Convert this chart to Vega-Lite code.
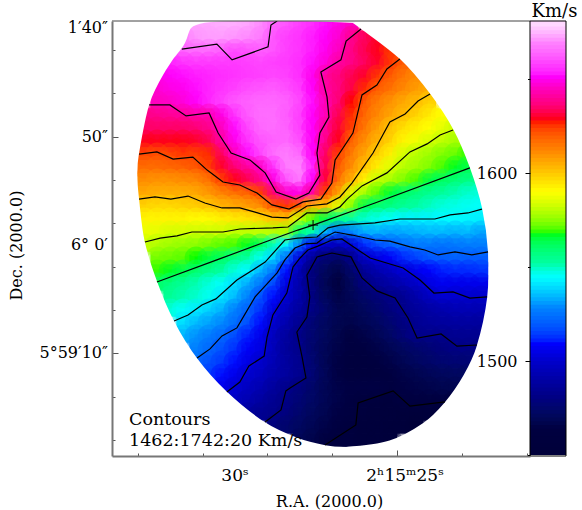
{"$schema":"https://vega.github.io/schema/vega-lite/v6.json","width":454,"height":435,"autosize":"none","padding":{"left":112,"top":21,"right":16,"bottom":54},"background":"white","config":{"font":"DejaVu Serif","view":{"stroke":null},"axis":{"grid":false,"labelFont":"DejaVu Serif","titleFont":"DejaVu Serif","titleFontWeight":"normal","labelColor":"black","titleColor":"black","labelFontSize":16,"titleFontSize":16,"zindex":1,"labelOverlap":false,"labelFlush":false}},
"datasets":{
"cells":[
{"r":31.2,"d":102,"v":1672},{"r":30.8,"d":102,"v":1672},{"r":30.4,"d":102,"v":1673},{"r":30,"d":102,"v":1673},{"r":29.6,"d":102,"v":1672},{"r":29.2,"d":102,"v":1669},{"r":28.8,"d":102,"v":1663},{"r":28.4,"d":102,"v":1660},{"r":28,"d":102,"v":1657},{"r":27.6,"d":102,"v":1654},{"r":27.2,"d":102,"v":1651},{"r":26.8,"d":102,"v":1648},{"r":26.4,"d":102,"v":1644},
{"r":31.6,"d":96,"v":1666},{"r":31.2,"d":96,"v":1670},{"r":30.8,"d":96,"v":1671},{"r":30.4,"d":96,"v":1671},{"r":30,"d":96,"v":1670},{"r":29.6,"d":96,"v":1669},{"r":29.2,"d":96,"v":1667},{"r":28.8,"d":96,"v":1660},{"r":28.4,"d":96,"v":1657},{"r":28,"d":96,"v":1655},{"r":27.6,"d":96,"v":1652},{"r":27.2,"d":96,"v":1650},{"r":26.8,"d":96,"v":1646},{"r":26.4,"d":96,"v":1638},{"r":26,"d":96,"v":1633},{"r":25.6,"d":96,"v":1629},
{"r":31.6,"d":90,"v":1663},{"r":31.2,"d":90,"v":1664},{"r":30.8,"d":90,"v":1664},{"r":30.4,"d":90,"v":1662},{"r":30,"d":90,"v":1659},{"r":29.6,"d":90,"v":1660},{"r":29.2,"d":90,"v":1662},{"r":28.8,"d":90,"v":1660},{"r":28.4,"d":90,"v":1657},{"r":28,"d":90,"v":1655},{"r":27.6,"d":90,"v":1652},{"r":27.2,"d":90,"v":1649},{"r":26.8,"d":90,"v":1644},{"r":26.4,"d":90,"v":1637},{"r":26,"d":90,"v":1632},{"r":25.6,"d":90,"v":1628},{"r":25.2,"d":90,"v":1624},
{"r":32.4,"d":84,"v":1651},{"r":32,"d":84,"v":1653},{"r":31.6,"d":84,"v":1655},{"r":31.2,"d":84,"v":1656},{"r":30.8,"d":84,"v":1656},{"r":30.4,"d":84,"v":1656},{"r":30,"d":84,"v":1656},{"r":29.6,"d":84,"v":1657},{"r":29.2,"d":84,"v":1658},{"r":28.8,"d":84,"v":1657},{"r":28.4,"d":84,"v":1656},{"r":28,"d":84,"v":1654},{"r":27.6,"d":84,"v":1651},{"r":27.2,"d":84,"v":1647},{"r":26.8,"d":84,"v":1641},{"r":26.4,"d":84,"v":1637},{"r":26,"d":84,"v":1633},{"r":25.6,"d":84,"v":1629},{"r":25.2,"d":84,"v":1624},{"r":24.8,"d":84,"v":1619},
{"r":32.4,"d":78,"v":1648},{"r":32,"d":78,"v":1650},{"r":31.6,"d":78,"v":1651},{"r":31.2,"d":78,"v":1652},{"r":30.8,"d":78,"v":1653},{"r":30.4,"d":78,"v":1654},{"r":30,"d":78,"v":1655},{"r":29.6,"d":78,"v":1656},{"r":29.2,"d":78,"v":1657},{"r":28.8,"d":78,"v":1658},{"r":28.4,"d":78,"v":1657},{"r":28,"d":78,"v":1654},{"r":27.6,"d":78,"v":1649},{"r":27.2,"d":78,"v":1640},{"r":26.8,"d":78,"v":1636},{"r":26.4,"d":78,"v":1632},{"r":26,"d":78,"v":1629},{"r":25.6,"d":78,"v":1624},{"r":25.2,"d":78,"v":1619},{"r":24.8,"d":78,"v":1614},{"r":24.4,"d":78,"v":1610},
{"r":32.4,"d":72,"v":1646},{"r":32,"d":72,"v":1648},{"r":31.6,"d":72,"v":1649},{"r":31.2,"d":72,"v":1651},{"r":30.8,"d":72,"v":1653},{"r":30.4,"d":72,"v":1655},{"r":30,"d":72,"v":1657},{"r":29.6,"d":72,"v":1659},{"r":29.2,"d":72,"v":1660},{"r":28.8,"d":72,"v":1661},{"r":28.4,"d":72,"v":1659},{"r":28,"d":72,"v":1656},{"r":27.6,"d":72,"v":1650},{"r":27.2,"d":72,"v":1641},{"r":26.8,"d":72,"v":1636},{"r":26.4,"d":72,"v":1631},{"r":26,"d":72,"v":1625},{"r":25.6,"d":72,"v":1619},{"r":25.2,"d":72,"v":1615},{"r":24.8,"d":72,"v":1611},{"r":24.4,"d":72,"v":1607},{"r":24,"d":72,"v":1604},
{"r":32.4,"d":66,"v":1644},{"r":32,"d":66,"v":1645},{"r":31.6,"d":66,"v":1647},{"r":31.2,"d":66,"v":1650},{"r":30.8,"d":66,"v":1653},{"r":30.4,"d":66,"v":1657},{"r":30,"d":66,"v":1660},{"r":29.6,"d":66,"v":1662},{"r":29.2,"d":66,"v":1663},{"r":28.8,"d":66,"v":1663},{"r":28.4,"d":66,"v":1662},{"r":28,"d":66,"v":1658},{"r":27.6,"d":66,"v":1651},{"r":27.2,"d":66,"v":1643},{"r":26.8,"d":66,"v":1635},{"r":26.4,"d":66,"v":1627},{"r":26,"d":66,"v":1619},{"r":25.6,"d":66,"v":1613},{"r":25.2,"d":66,"v":1609},{"r":24.8,"d":66,"v":1605},{"r":24.4,"d":66,"v":1602},{"r":24,"d":66,"v":1597},
{"r":32.8,"d":60,"v":1637},{"r":32.4,"d":60,"v":1638},{"r":32,"d":60,"v":1639},{"r":31.6,"d":60,"v":1640},{"r":31.2,"d":60,"v":1642},{"r":30.8,"d":60,"v":1642},{"r":30.4,"d":60,"v":1648},{"r":30,"d":60,"v":1655},{"r":29.6,"d":60,"v":1661},{"r":29.2,"d":60,"v":1664},{"r":28.8,"d":60,"v":1664},{"r":28.4,"d":60,"v":1661},{"r":28,"d":60,"v":1657},{"r":27.6,"d":60,"v":1650},{"r":27.2,"d":60,"v":1643},{"r":26.8,"d":60,"v":1632},{"r":26.4,"d":60,"v":1625},{"r":26,"d":60,"v":1617},{"r":25.6,"d":60,"v":1611},{"r":25.2,"d":60,"v":1606},{"r":24.8,"d":60,"v":1602},{"r":24.4,"d":60,"v":1597},{"r":24,"d":60,"v":1593},{"r":23.6,"d":60,"v":1589},
{"r":32.8,"d":54,"v":1634},{"r":32.4,"d":54,"v":1634},{"r":32,"d":54,"v":1634},{"r":31.6,"d":54,"v":1634},{"r":31.2,"d":54,"v":1635},{"r":30.8,"d":54,"v":1638},{"r":30.4,"d":54,"v":1644},{"r":30,"d":54,"v":1651},{"r":29.6,"d":54,"v":1658},{"r":29.2,"d":54,"v":1663},{"r":28.8,"d":54,"v":1664},{"r":28.4,"d":54,"v":1662},{"r":28,"d":54,"v":1657},{"r":27.6,"d":54,"v":1650},{"r":27.2,"d":54,"v":1640},{"r":26.8,"d":54,"v":1630},{"r":26.4,"d":54,"v":1623},{"r":26,"d":54,"v":1614},{"r":25.6,"d":54,"v":1607},{"r":25.2,"d":54,"v":1600},{"r":24.8,"d":54,"v":1595},{"r":24.4,"d":54,"v":1592},{"r":24,"d":54,"v":1589},{"r":23.6,"d":54,"v":1585},{"r":23.2,"d":54,"v":1581},
{"r":32.8,"d":48,"v":1628},{"r":32.4,"d":48,"v":1628},{"r":32,"d":48,"v":1628},{"r":31.6,"d":48,"v":1628},{"r":31.2,"d":48,"v":1629},{"r":30.8,"d":48,"v":1632},{"r":30.4,"d":48,"v":1641},{"r":30,"d":48,"v":1649},{"r":29.6,"d":48,"v":1655},{"r":29.2,"d":48,"v":1660},{"r":28.8,"d":48,"v":1662},{"r":28.4,"d":48,"v":1663},{"r":28,"d":48,"v":1659},{"r":27.6,"d":48,"v":1650},{"r":27.2,"d":48,"v":1637},{"r":26.8,"d":48,"v":1628},{"r":26.4,"d":48,"v":1618},{"r":26,"d":48,"v":1610},{"r":25.6,"d":48,"v":1603},{"r":25.2,"d":48,"v":1597},{"r":24.8,"d":48,"v":1591},{"r":24.4,"d":48,"v":1587},{"r":24,"d":48,"v":1583},{"r":23.6,"d":48,"v":1580},{"r":23.2,"d":48,"v":1577},
{"r":32.8,"d":42,"v":1622},{"r":32.4,"d":42,"v":1621},{"r":32,"d":42,"v":1622},{"r":31.6,"d":42,"v":1624},{"r":31.2,"d":42,"v":1623},{"r":30.8,"d":42,"v":1625},{"r":30.4,"d":42,"v":1633},{"r":30,"d":42,"v":1644},{"r":29.6,"d":42,"v":1651},{"r":29.2,"d":42,"v":1658},{"r":28.8,"d":42,"v":1664},{"r":28.4,"d":42,"v":1667},{"r":28,"d":42,"v":1663},{"r":27.6,"d":42,"v":1650},{"r":27.2,"d":42,"v":1633},{"r":26.8,"d":42,"v":1623},{"r":26.4,"d":42,"v":1613},{"r":26,"d":42,"v":1606},{"r":25.6,"d":42,"v":1598},{"r":25.2,"d":42,"v":1592},{"r":24.8,"d":42,"v":1583},{"r":24.4,"d":42,"v":1579},{"r":24,"d":42,"v":1576},{"r":23.6,"d":42,"v":1573},{"r":23.2,"d":42,"v":1571},{"r":22.8,"d":42,"v":1568},
{"r":32.8,"d":36,"v":1616},{"r":32.4,"d":36,"v":1616},{"r":32,"d":36,"v":1617},{"r":31.6,"d":36,"v":1618},{"r":31.2,"d":36,"v":1620},{"r":30.8,"d":36,"v":1623},{"r":30.4,"d":36,"v":1629},{"r":30,"d":36,"v":1635},{"r":29.6,"d":36,"v":1640},{"r":29.2,"d":36,"v":1645},{"r":28.8,"d":36,"v":1655},{"r":28.4,"d":36,"v":1667},{"r":28,"d":36,"v":1668},{"r":27.6,"d":36,"v":1653},{"r":27.2,"d":36,"v":1632},{"r":26.8,"d":36,"v":1619},{"r":26.4,"d":36,"v":1610},{"r":26,"d":36,"v":1601},{"r":25.6,"d":36,"v":1592},{"r":25.2,"d":36,"v":1584},{"r":24.8,"d":36,"v":1579},{"r":24.4,"d":36,"v":1576},{"r":24,"d":36,"v":1573},{"r":23.6,"d":36,"v":1569},{"r":23.2,"d":36,"v":1566},{"r":22.8,"d":36,"v":1563},
{"r":32.8,"d":30,"v":1610},{"r":32.4,"d":30,"v":1609},{"r":32,"d":30,"v":1609},{"r":31.6,"d":30,"v":1610},{"r":31.2,"d":30,"v":1611},{"r":30.8,"d":30,"v":1615},{"r":30.4,"d":30,"v":1623},{"r":30,"d":30,"v":1628},{"r":29.6,"d":30,"v":1632},{"r":29.2,"d":30,"v":1638},{"r":28.8,"d":30,"v":1648},{"r":28.4,"d":30,"v":1660},{"r":28,"d":30,"v":1666},{"r":27.6,"d":30,"v":1650},{"r":27.2,"d":30,"v":1630},{"r":26.8,"d":30,"v":1615},{"r":26.4,"d":30,"v":1604},{"r":26,"d":30,"v":1591},{"r":25.6,"d":30,"v":1581},{"r":25.2,"d":30,"v":1577},{"r":24.8,"d":30,"v":1573},{"r":24.4,"d":30,"v":1569},{"r":24,"d":30,"v":1564},{"r":23.6,"d":30,"v":1561},{"r":23.2,"d":30,"v":1558},{"r":22.8,"d":30,"v":1556},{"r":22.4,"d":30,"v":1554},
{"r":32.8,"d":24,"v":1605},{"r":32.4,"d":24,"v":1604},{"r":32,"d":24,"v":1604},{"r":31.6,"d":24,"v":1604},{"r":31.2,"d":24,"v":1605},{"r":30.8,"d":24,"v":1608},{"r":30.4,"d":24,"v":1612},{"r":30,"d":24,"v":1615},{"r":29.6,"d":24,"v":1618},{"r":29.2,"d":24,"v":1623},{"r":28.8,"d":24,"v":1635},{"r":28.4,"d":24,"v":1646},{"r":28,"d":24,"v":1648},{"r":27.6,"d":24,"v":1640},{"r":27.2,"d":24,"v":1622},{"r":26.8,"d":24,"v":1606},{"r":26.4,"d":24,"v":1584},{"r":26,"d":24,"v":1577},{"r":25.6,"d":24,"v":1570},{"r":25.2,"d":24,"v":1565},{"r":24.8,"d":24,"v":1561},{"r":24.4,"d":24,"v":1557},{"r":24,"d":24,"v":1554},{"r":23.6,"d":24,"v":1552},{"r":23.2,"d":24,"v":1550},{"r":22.8,"d":24,"v":1548},{"r":22.4,"d":24,"v":1547},
{"r":32.8,"d":18,"v":1597},{"r":32.4,"d":18,"v":1596},{"r":32,"d":18,"v":1596},{"r":31.6,"d":18,"v":1597},{"r":31.2,"d":18,"v":1598},{"r":30.8,"d":18,"v":1600},{"r":30.4,"d":18,"v":1603},{"r":30,"d":18,"v":1605},{"r":29.6,"d":18,"v":1607},{"r":29.2,"d":18,"v":1610},{"r":28.8,"d":18,"v":1620},{"r":28.4,"d":18,"v":1624},{"r":28,"d":18,"v":1619},{"r":27.6,"d":18,"v":1602},{"r":27.2,"d":18,"v":1601},{"r":26.8,"d":18,"v":1584},{"r":26.4,"d":18,"v":1574},{"r":26,"d":18,"v":1563},{"r":25.6,"d":18,"v":1559},{"r":25.2,"d":18,"v":1556},{"r":24.8,"d":18,"v":1553},{"r":24.4,"d":18,"v":1551},{"r":24,"d":18,"v":1549},{"r":23.6,"d":18,"v":1547},{"r":23.2,"d":18,"v":1546},{"r":22.8,"d":18,"v":1545},{"r":22.4,"d":18,"v":1544},
{"r":32.8,"d":12,"v":1591},{"r":32.4,"d":12,"v":1591},{"r":32,"d":12,"v":1591},{"r":31.6,"d":12,"v":1591},{"r":31.2,"d":12,"v":1590},{"r":30.8,"d":12,"v":1590},{"r":30.4,"d":12,"v":1592},{"r":30,"d":12,"v":1593},{"r":29.6,"d":12,"v":1594},{"r":29.2,"d":12,"v":1596},{"r":28.8,"d":12,"v":1600},{"r":28.4,"d":12,"v":1600},{"r":28,"d":12,"v":1582},{"r":27.6,"d":12,"v":1570},{"r":27.2,"d":12,"v":1563},{"r":26.8,"d":12,"v":1556},{"r":26.4,"d":12,"v":1551},{"r":26,"d":12,"v":1548},{"r":25.6,"d":12,"v":1546},{"r":25.2,"d":12,"v":1544},{"r":24.8,"d":12,"v":1542},{"r":24.4,"d":12,"v":1542},{"r":24,"d":12,"v":1542},{"r":23.6,"d":12,"v":1543},{"r":23.2,"d":12,"v":1543},{"r":22.8,"d":12,"v":1542},{"r":22.4,"d":12,"v":1541},
{"r":32.8,"d":6,"v":1586},{"r":32.4,"d":6,"v":1585},{"r":32,"d":6,"v":1583},{"r":31.6,"d":6,"v":1583},{"r":31.2,"d":6,"v":1582},{"r":30.8,"d":6,"v":1582},{"r":30.4,"d":6,"v":1582},{"r":30,"d":6,"v":1580},{"r":29.6,"d":6,"v":1580},{"r":29.2,"d":6,"v":1580},{"r":28.8,"d":6,"v":1579},{"r":28.4,"d":6,"v":1577},{"r":28,"d":6,"v":1558},{"r":27.6,"d":6,"v":1550},{"r":27.2,"d":6,"v":1533},{"r":26.8,"d":6,"v":1522},{"r":26.4,"d":6,"v":1527},{"r":26,"d":6,"v":1532},{"r":25.6,"d":6,"v":1533},{"r":25.2,"d":6,"v":1531},{"r":24.8,"d":6,"v":1532},{"r":24.4,"d":6,"v":1533},{"r":24,"d":6,"v":1534},{"r":23.6,"d":6,"v":1534},{"r":23.2,"d":6,"v":1533},{"r":22.8,"d":6,"v":1534},{"r":22.4,"d":6,"v":1531},
{"r":32.8,"d":0,"v":1581},{"r":32.4,"d":0,"v":1578},{"r":32,"d":0,"v":1576},{"r":31.6,"d":0,"v":1575},{"r":31.2,"d":0,"v":1574},{"r":30.8,"d":0,"v":1572},{"r":30.4,"d":0,"v":1570},{"r":30,"d":0,"v":1569},{"r":29.6,"d":0,"v":1566},{"r":29.2,"d":0,"v":1561},{"r":28.8,"d":0,"v":1549},{"r":28.4,"d":0,"v":1542},{"r":28,"d":0,"v":1525},{"r":27.6,"d":0,"v":1507},{"r":27.2,"d":0,"v":1498},{"r":26.8,"d":0,"v":1495},{"r":26.4,"d":0,"v":1500},{"r":26,"d":0,"v":1511},{"r":25.6,"d":0,"v":1516},{"r":25.2,"d":0,"v":1520},{"r":24.8,"d":0,"v":1523},{"r":24.4,"d":0,"v":1526},{"r":24,"d":0,"v":1525},{"r":23.6,"d":0,"v":1524},{"r":23.2,"d":0,"v":1525},{"r":22.8,"d":0,"v":1526},{"r":22.4,"d":0,"v":1526},
{"r":32.4,"d":-6,"v":1572},{"r":32,"d":-6,"v":1571},{"r":31.6,"d":-6,"v":1570},{"r":31.2,"d":-6,"v":1567},{"r":30.8,"d":-6,"v":1564},{"r":30.4,"d":-6,"v":1561},{"r":30,"d":-6,"v":1556},{"r":29.6,"d":-6,"v":1551},{"r":29.2,"d":-6,"v":1545},{"r":28.8,"d":-6,"v":1538},{"r":28.4,"d":-6,"v":1522},{"r":28,"d":-6,"v":1502},{"r":27.6,"d":-6,"v":1485},{"r":27.2,"d":-6,"v":1477},{"r":26.8,"d":-6,"v":1474},{"r":26.4,"d":-6,"v":1482},{"r":26,"d":-6,"v":1498},{"r":25.6,"d":-6,"v":1503},{"r":25.2,"d":-6,"v":1507},{"r":24.8,"d":-6,"v":1511},{"r":24.4,"d":-6,"v":1514},{"r":24,"d":-6,"v":1518},{"r":23.6,"d":-6,"v":1519},{"r":23.2,"d":-6,"v":1520},{"r":22.8,"d":-6,"v":1519},{"r":22.4,"d":-6,"v":1519},
{"r":32.4,"d":-12,"v":1568},{"r":32,"d":-12,"v":1566},{"r":31.6,"d":-12,"v":1563},{"r":31.2,"d":-12,"v":1559},{"r":30.8,"d":-12,"v":1555},{"r":30.4,"d":-12,"v":1551},{"r":30,"d":-12,"v":1547},{"r":29.6,"d":-12,"v":1543},{"r":29.2,"d":-12,"v":1533},{"r":28.8,"d":-12,"v":1525},{"r":28.4,"d":-12,"v":1509},{"r":28,"d":-12,"v":1492},{"r":27.6,"d":-12,"v":1478},{"r":27.2,"d":-12,"v":1470},{"r":26.8,"d":-12,"v":1466},{"r":26.4,"d":-12,"v":1474},{"r":26,"d":-12,"v":1485},{"r":25.6,"d":-12,"v":1491},{"r":25.2,"d":-12,"v":1496},{"r":24.8,"d":-12,"v":1501},{"r":24.4,"d":-12,"v":1505},{"r":24,"d":-12,"v":1508},{"r":23.6,"d":-12,"v":1510},{"r":23.2,"d":-12,"v":1511},{"r":22.8,"d":-12,"v":1511},{"r":22.4,"d":-12,"v":1512},
{"r":32.4,"d":-18,"v":1560},{"r":32,"d":-18,"v":1556},{"r":31.6,"d":-18,"v":1553},{"r":31.2,"d":-18,"v":1550},{"r":30.8,"d":-18,"v":1547},{"r":30.4,"d":-18,"v":1544},{"r":30,"d":-18,"v":1539},{"r":29.6,"d":-18,"v":1532},{"r":29.2,"d":-18,"v":1525},{"r":28.8,"d":-18,"v":1515},{"r":28.4,"d":-18,"v":1503},{"r":28,"d":-18,"v":1490},{"r":27.6,"d":-18,"v":1478},{"r":27.2,"d":-18,"v":1468},{"r":26.8,"d":-18,"v":1463},{"r":26.4,"d":-18,"v":1470},{"r":26,"d":-18,"v":1479},{"r":25.6,"d":-18,"v":1485},{"r":25.2,"d":-18,"v":1489},{"r":24.8,"d":-18,"v":1493},{"r":24.4,"d":-18,"v":1498},{"r":24,"d":-18,"v":1503},{"r":23.6,"d":-18,"v":1506},{"r":23.2,"d":-18,"v":1505},{"r":22.8,"d":-18,"v":1505},{"r":22.4,"d":-18,"v":1505},
{"r":32,"d":-24,"v":1553},{"r":31.6,"d":-24,"v":1550},{"r":31.2,"d":-24,"v":1548},{"r":30.8,"d":-24,"v":1545},{"r":30.4,"d":-24,"v":1540},{"r":30,"d":-24,"v":1534},{"r":29.6,"d":-24,"v":1527},{"r":29.2,"d":-24,"v":1517},{"r":28.8,"d":-24,"v":1509},{"r":28.4,"d":-24,"v":1500},{"r":28,"d":-24,"v":1490},{"r":27.6,"d":-24,"v":1479},{"r":27.2,"d":-24,"v":1470},{"r":26.8,"d":-24,"v":1465},{"r":26.4,"d":-24,"v":1469},{"r":26,"d":-24,"v":1473},{"r":25.6,"d":-24,"v":1477},{"r":25.2,"d":-24,"v":1481},{"r":24.8,"d":-24,"v":1484},{"r":24.4,"d":-24,"v":1490},{"r":24,"d":-24,"v":1496},{"r":23.6,"d":-24,"v":1500},{"r":23.2,"d":-24,"v":1499},{"r":22.8,"d":-24,"v":1499},{"r":22.4,"d":-24,"v":1498},
{"r":32,"d":-30,"v":1547},{"r":31.6,"d":-30,"v":1544},{"r":31.2,"d":-30,"v":1541},{"r":30.8,"d":-30,"v":1537},{"r":30.4,"d":-30,"v":1533},{"r":30,"d":-30,"v":1527},{"r":29.6,"d":-30,"v":1521},{"r":29.2,"d":-30,"v":1512},{"r":28.8,"d":-30,"v":1503},{"r":28.4,"d":-30,"v":1495},{"r":28,"d":-30,"v":1487},{"r":27.6,"d":-30,"v":1480},{"r":27.2,"d":-30,"v":1473},{"r":26.8,"d":-30,"v":1467},{"r":26.4,"d":-30,"v":1467},{"r":26,"d":-30,"v":1470},{"r":25.6,"d":-30,"v":1474},{"r":25.2,"d":-30,"v":1478},{"r":24.8,"d":-30,"v":1482},{"r":24.4,"d":-30,"v":1486},{"r":24,"d":-30,"v":1489},{"r":23.6,"d":-30,"v":1491},{"r":23.2,"d":-30,"v":1493},{"r":22.8,"d":-30,"v":1493},{"r":22.4,"d":-30,"v":1492},
{"r":31.6,"d":-36,"v":1539},{"r":31.2,"d":-36,"v":1534},{"r":30.8,"d":-36,"v":1531},{"r":30.4,"d":-36,"v":1528},{"r":30,"d":-36,"v":1523},{"r":29.6,"d":-36,"v":1517},{"r":29.2,"d":-36,"v":1509},{"r":28.8,"d":-36,"v":1500},{"r":28.4,"d":-36,"v":1491},{"r":28,"d":-36,"v":1484},{"r":27.6,"d":-36,"v":1476},{"r":27.2,"d":-36,"v":1471},{"r":26.8,"d":-36,"v":1467},{"r":26.4,"d":-36,"v":1466},{"r":26,"d":-36,"v":1468},{"r":25.6,"d":-36,"v":1471},{"r":25.2,"d":-36,"v":1475},{"r":24.8,"d":-36,"v":1479},{"r":24.4,"d":-36,"v":1484},{"r":24,"d":-36,"v":1486},{"r":23.6,"d":-36,"v":1487},{"r":23.2,"d":-36,"v":1488},{"r":22.8,"d":-36,"v":1488},{"r":22.4,"d":-36,"v":1487},
{"r":31.6,"d":-42,"v":1533},{"r":31.2,"d":-42,"v":1529},{"r":30.8,"d":-42,"v":1526},{"r":30.4,"d":-42,"v":1522},{"r":30,"d":-42,"v":1516},{"r":29.6,"d":-42,"v":1510},{"r":29.2,"d":-42,"v":1505},{"r":28.8,"d":-42,"v":1495},{"r":28.4,"d":-42,"v":1487},{"r":28,"d":-42,"v":1481},{"r":27.6,"d":-42,"v":1475},{"r":27.2,"d":-42,"v":1470},{"r":26.8,"d":-42,"v":1466},{"r":26.4,"d":-42,"v":1463},{"r":26,"d":-42,"v":1465},{"r":25.6,"d":-42,"v":1468},{"r":25.2,"d":-42,"v":1472},{"r":24.8,"d":-42,"v":1477},{"r":24.4,"d":-42,"v":1482},{"r":24,"d":-42,"v":1482},{"r":23.6,"d":-42,"v":1482},{"r":23.2,"d":-42,"v":1484},{"r":22.8,"d":-42,"v":1484},{"r":22.4,"d":-42,"v":1483},
{"r":31.2,"d":-48,"v":1527},{"r":30.8,"d":-48,"v":1522},{"r":30.4,"d":-48,"v":1517},{"r":30,"d":-48,"v":1512},{"r":29.6,"d":-48,"v":1507},{"r":29.2,"d":-48,"v":1503},{"r":28.8,"d":-48,"v":1494},{"r":28.4,"d":-48,"v":1486},{"r":28,"d":-48,"v":1482},{"r":27.6,"d":-48,"v":1474},{"r":27.2,"d":-48,"v":1469},{"r":26.8,"d":-48,"v":1465},{"r":26.4,"d":-48,"v":1462},{"r":26,"d":-48,"v":1463},{"r":25.6,"d":-48,"v":1465},{"r":25.2,"d":-48,"v":1468},{"r":24.8,"d":-48,"v":1471},{"r":24.4,"d":-48,"v":1474},{"r":24,"d":-48,"v":1476},{"r":23.6,"d":-48,"v":1478},{"r":23.2,"d":-48,"v":1480},{"r":22.8,"d":-48,"v":1480},{"r":22.4,"d":-48,"v":1479},
{"r":31.2,"d":-54,"v":1522},{"r":30.8,"d":-54,"v":1517},{"r":30.4,"d":-54,"v":1513},{"r":30,"d":-54,"v":1509},{"r":29.6,"d":-54,"v":1504},{"r":29.2,"d":-54,"v":1499},{"r":28.8,"d":-54,"v":1493},{"r":28.4,"d":-54,"v":1487},{"r":28,"d":-54,"v":1483},{"r":27.6,"d":-54,"v":1475},{"r":27.2,"d":-54,"v":1468},{"r":26.8,"d":-54,"v":1464},{"r":26.4,"d":-54,"v":1461},{"r":26,"d":-54,"v":1461},{"r":25.6,"d":-54,"v":1463},{"r":25.2,"d":-54,"v":1465},{"r":24.8,"d":-54,"v":1468},{"r":24.4,"d":-54,"v":1471},{"r":24,"d":-54,"v":1473},{"r":23.6,"d":-54,"v":1475},{"r":23.2,"d":-54,"v":1476},{"r":22.8,"d":-54,"v":1476},
{"r":30.8,"d":-60,"v":1513},{"r":30.4,"d":-60,"v":1509},{"r":30,"d":-60,"v":1505},{"r":29.6,"d":-60,"v":1500},{"r":29.2,"d":-60,"v":1496},{"r":28.8,"d":-60,"v":1491},{"r":28.4,"d":-60,"v":1487},{"r":28,"d":-60,"v":1483},{"r":27.6,"d":-60,"v":1476},{"r":27.2,"d":-60,"v":1469},{"r":26.8,"d":-60,"v":1464},{"r":26.4,"d":-60,"v":1461},{"r":26,"d":-60,"v":1459},{"r":25.6,"d":-60,"v":1461},{"r":25.2,"d":-60,"v":1463},{"r":24.8,"d":-60,"v":1465},{"r":24.4,"d":-60,"v":1467},{"r":24,"d":-60,"v":1469},{"r":23.6,"d":-60,"v":1470},{"r":23.2,"d":-60,"v":1471},{"r":22.8,"d":-60,"v":1471},
{"r":30.4,"d":-66,"v":1505},{"r":30,"d":-66,"v":1501},{"r":29.6,"d":-66,"v":1496},{"r":29.2,"d":-66,"v":1492},{"r":28.8,"d":-66,"v":1487},{"r":28.4,"d":-66,"v":1482},{"r":28,"d":-66,"v":1478},{"r":27.6,"d":-66,"v":1473},{"r":27.2,"d":-66,"v":1468},{"r":26.8,"d":-66,"v":1465},{"r":26.4,"d":-66,"v":1464},{"r":26,"d":-66,"v":1464},{"r":25.6,"d":-66,"v":1464},{"r":25.2,"d":-66,"v":1463},{"r":24.8,"d":-66,"v":1464},{"r":24.4,"d":-66,"v":1465},{"r":24,"d":-66,"v":1466},{"r":23.6,"d":-66,"v":1467},{"r":23.2,"d":-66,"v":1467},
{"r":30,"d":-72,"v":1496},{"r":29.6,"d":-72,"v":1492},{"r":29.2,"d":-72,"v":1488},{"r":28.8,"d":-72,"v":1484},{"r":28.4,"d":-72,"v":1480},{"r":28,"d":-72,"v":1476},{"r":27.6,"d":-72,"v":1472},{"r":27.2,"d":-72,"v":1468},{"r":26.8,"d":-72,"v":1465},{"r":26.4,"d":-72,"v":1463},{"r":26,"d":-72,"v":1461},{"r":25.6,"d":-72,"v":1458},{"r":25.2,"d":-72,"v":1456},{"r":24.8,"d":-72,"v":1462},{"r":24.4,"d":-72,"v":1463},{"r":24,"d":-72,"v":1463},{"r":23.6,"d":-72,"v":1462},{"r":23.2,"d":-72,"v":1461},
{"r":29.6,"d":-78,"v":1486},{"r":29.2,"d":-78,"v":1484},{"r":28.8,"d":-78,"v":1482},{"r":28.4,"d":-78,"v":1478},{"r":28,"d":-78,"v":1474},{"r":27.6,"d":-78,"v":1470},{"r":27.2,"d":-78,"v":1467},{"r":26.8,"d":-78,"v":1464},{"r":26.4,"d":-78,"v":1463},{"r":26,"d":-78,"v":1459},{"r":25.6,"d":-78,"v":1456},{"r":25.2,"d":-78,"v":1454},{"r":24.8,"d":-78,"v":1453},{"r":24.4,"d":-78,"v":1453},{"r":24,"d":-78,"v":1452},{"r":23.6,"d":-78,"v":1452},
{"r":28.8,"d":-84,"v":1477},{"r":28.4,"d":-84,"v":1474},{"r":28,"d":-84,"v":1471},{"r":27.6,"d":-84,"v":1468},{"r":27.2,"d":-84,"v":1465},{"r":26.8,"d":-84,"v":1463},{"r":26.4,"d":-84,"v":1461},{"r":26,"d":-84,"v":1457},{"r":25.6,"d":-84,"v":1455},{"r":25.2,"d":-84,"v":1453},{"r":24.8,"d":-84,"v":1452},{"r":24.4,"d":-84,"v":1451},
{"r":28,"d":-90,"v":1469},{"r":27.6,"d":-90,"v":1466},{"r":27.2,"d":-90,"v":1463},{"r":26.8,"d":-90,"v":1460},{"r":26.4,"d":-90,"v":1458},{"r":26,"d":-90,"v":1456},{"r":25.6,"d":-90,"v":1454},{"r":25.2,"d":-90,"v":1452}
],
"edge":[{"r":26.27,"d":108.1},{"r":25.9,"d":104.4},{"r":24.63,"d":89.6},{"r":23.67,"d":73},{"r":22.93,"d":55.9},{"r":22.41,"d":37.9},{"r":22.01,"d":18},{"r":21.82,"d":-3.2},{"r":21.85,"d":-24.9},{"r":22.19,"d":-48.5},{"r":22.62,"d":-62.8},{"r":23.24,"d":-76.2},{"r":23.98,"d":-86.8},{"r":25.12,"d":-95.6},{"r":26.54,"d":-98.8},{"r":27.28,"d":-97.9},{"r":28.21,"d":-94.2},{"r":29.29,"d":-86.4},{"r":30.52,"d":-71.6},{"r":31.48,"d":-55.4},{"r":32.22,"d":-37.4},{"r":32.75,"d":-18.9},{"r":33.15,"d":0.5},{"r":33.33,"d":20.8},{"r":33.39,"d":32.3},{"r":33.33,"d":43},{"r":32.99,"d":67},{"r":32.47,"d":83.1},{"r":31.94,"d":94.2},{"r":30.99,"d":108.1},{"r":26.27,"d":108.1}],
"contours":[
{"l":1662,"r":31.64,"d":90.5},{"l":1662,"r":30.56,"d":92.8},{"l":1662,"r":30.09,"d":85.5},{"l":1662,"r":28.98,"d":91.5},{"l":1662,"r":28.89,"d":101.6},{"l":1662,"r":28.7,"d":103.5},
{"l":1642,"r":32.65,"d":64.7},{"l":1642,"r":32.01,"d":64.7},{"l":1642,"r":31.51,"d":59.6},{"l":1642,"r":30.8,"d":61},{"l":1642,"r":30.52,"d":51.7},{"l":1642,"r":30.12,"d":42.5},{"l":1642,"r":29.54,"d":39.3},{"l":1642,"r":29.07,"d":33.3},{"l":1642,"r":28.73,"d":24.5},{"l":1642,"r":28.12,"d":21.2},{"l":1642,"r":27.72,"d":24},{"l":1642,"r":27.38,"d":32.3},{"l":1642,"r":27.47,"d":42.5},{"l":1642,"r":27.38,"d":51.7},{"l":1642,"r":27.1,"d":59.1},{"l":1642,"r":27.16,"d":68.4},{"l":1642,"r":27.35,"d":79.9},{"l":1642,"r":26.73,"d":85.5},{"l":1642,"r":26.57,"d":94.2},{"l":1642,"r":26.11,"d":99.8},
{"l":1622,"r":32.96,"d":42},{"l":1622,"r":32.41,"d":43},{"l":1622,"r":31.91,"d":39.7},{"l":1622,"r":31.3,"d":40.6},{"l":1622,"r":30.86,"d":34.6},{"l":1622,"r":30.37,"d":29.1},{"l":1622,"r":29.85,"d":27.7},{"l":1622,"r":29.32,"d":24},{"l":1622,"r":28.86,"d":18.5},{"l":1622,"r":28.33,"d":16.6},{"l":1622,"r":27.9,"d":19.9},{"l":1622,"r":27.35,"d":21.2},{"l":1622,"r":27.01,"d":28.6},{"l":1622,"r":26.91,"d":39.3},{"l":1622,"r":26.36,"d":51.7},{"l":1622,"r":26.08,"d":69.3},{"l":1622,"r":25.62,"d":73.9},{"l":1622,"r":25.31,"d":81.3},{"l":1622,"r":24.91,"d":85.9},
{"l":1602,"r":32.96,"d":21.2},{"l":1602,"r":32.47,"d":22.2},{"l":1602,"r":31.98,"d":21.2},{"l":1602,"r":31.45,"d":22.6},{"l":1602,"r":30.93,"d":19.4},{"l":1602,"r":30.4,"d":17.1},{"l":1602,"r":29.85,"d":17.1},{"l":1602,"r":29.38,"d":15.2},{"l":1602,"r":28.86,"d":12.9},{"l":1602,"r":28.36,"d":12.5},{"l":1602,"r":27.78,"d":18},{"l":1602,"r":27.16,"d":19},{"l":1602,"r":26.76,"d":22.2},{"l":1602,"r":26.39,"d":28.6},{"l":1602,"r":25.74,"d":42.5},{"l":1602,"r":25.22,"d":56.8},{"l":1602,"r":24.75,"d":60.5},{"l":1602,"r":24.35,"d":66.5},{"l":1602,"r":23.98,"d":69.7},
{"l":1582,"r":32.78,"d":1.4},{"l":1582,"r":32.31,"d":3.2},{"l":1582,"r":31.79,"d":4.2},{"l":1582,"r":31.33,"d":6},{"l":1582,"r":30.37,"d":6},{"l":1582,"r":29.85,"d":7.4},{"l":1582,"r":28.83,"d":7.9},{"l":1582,"r":28.36,"d":8.3},{"l":1582,"r":27.99,"d":12.5},{"l":1582,"r":27.78,"d":14.8},{"l":1582,"r":27.16,"d":14.8},{"l":1582,"r":26.76,"d":17.6},{"l":1582,"r":26.54,"d":21.2},{"l":1582,"r":26.08,"d":27.3},{"l":1582,"r":25.31,"d":33.3},{"l":1582,"r":24.6,"d":43},{"l":1582,"r":24.07,"d":46.7},{"l":1582,"r":23.67,"d":50.8},{"l":1582,"r":23.27,"d":53.1},
{"l":1562,"r":32.41,"d":-17.1},{"l":1562,"r":30.56,"d":-6.9},{"l":1562,"r":29.07,"d":1.4},{"l":1562,"r":28.06,"d":6.9},{"l":1562,"r":27.59,"d":9.2},{"l":1562,"r":25.68,"d":19.4},{"l":1562,"r":22.75,"d":35.6},
{"l":1542,"r":31.88,"d":-35.1},{"l":1542,"r":31.45,"d":-32.3},{"l":1542,"r":31.02,"d":-27.7},{"l":1542,"r":30.59,"d":-24.9},{"l":1542,"r":29.94,"d":-16.2},{"l":1542,"r":29.07,"d":-7.9},{"l":1542,"r":28.46,"d":2.3},{"l":1542,"r":28.06,"d":3.2},{"l":1542,"r":27.47,"d":3.7},{"l":1542,"r":27.13,"d":7.9},{"l":1542,"r":26.76,"d":9.2},{"l":1542,"r":25.68,"d":10.2},{"l":1542,"r":24.91,"d":12},{"l":1542,"r":23.83,"d":12},{"l":1542,"r":23.36,"d":13.9},{"l":1542,"r":22.81,"d":14.8},{"l":1542,"r":22.38,"d":16.6},
{"l":1522,"r":31.17,"d":-52.2},{"l":1522,"r":30.77,"d":-48},{"l":1522,"r":30.4,"d":-42},{"l":1522,"r":29.94,"d":-38.3},{"l":1522,"r":29.38,"d":-24},{"l":1522,"r":28.7,"d":-12.9},{"l":1522,"r":28.46,"d":-6.9},{"l":1522,"r":28.15,"d":-1.4},{"l":1522,"r":27.84,"d":0.5},{"l":1522,"r":27.47,"d":0.9},{"l":1522,"r":27.22,"d":3.7},{"l":1522,"r":26.91,"d":6},{"l":1522,"r":26.39,"d":4.6},{"l":1522,"r":25.68,"d":2.3},{"l":1522,"r":25.22,"d":1.8},{"l":1522,"r":24.6,"d":-0.9},{"l":1522,"r":24.14,"d":-2.3},{"l":1522,"r":23.73,"d":-4.6},{"l":1522,"r":23.21,"d":-3.2},{"l":1522,"r":22.69,"d":-4.6},{"l":1522,"r":22.19,"d":-3.2},
{"l":1502,"r":30.25,"d":-67.9},{"l":1502,"r":29.85,"d":-63.3},{"l":1502,"r":29.57,"d":-55.9},{"l":1502,"r":29.1,"d":-51.3},{"l":1502,"r":29.01,"d":-42.5},{"l":1502,"r":28.83,"d":-32.3},{"l":1502,"r":28.4,"d":-22.2},{"l":1502,"r":28.21,"d":-10.2},{"l":1502,"r":27.99,"d":-6},{"l":1502,"r":27.75,"d":-2.3},{"l":1502,"r":27.44,"d":-0.5},{"l":1502,"r":27.01,"d":2.3},{"l":1502,"r":26.7,"d":2.8},{"l":1502,"r":26.2,"d":-2.3},{"l":1502,"r":25.83,"d":-6},{"l":1502,"r":24.81,"d":-10.6},{"l":1502,"r":24.29,"d":-16.2},{"l":1502,"r":23.86,"d":-22.2},{"l":1502,"r":23.27,"d":-21.7},{"l":1502,"r":22.75,"d":-24.5},{"l":1502,"r":22.22,"d":-24},
{"l":1482,"r":29.07,"d":-81.8},{"l":1482,"r":28.58,"d":-76.2},{"l":1482,"r":28.43,"d":-67.4},{"l":1482,"r":28.3,"d":-66.1},{"l":1482,"r":27.81,"d":-61.4},{"l":1482,"r":27.93,"d":-51.7},{"l":1482,"r":28.09,"d":-40.2},{"l":1482,"r":27.78,"d":-33.3},{"l":1482,"r":27.69,"d":-24},{"l":1482,"r":27.78,"d":-13.9},{"l":1482,"r":27.47,"d":-5.5},{"l":1482,"r":27.01,"d":-3.7},{"l":1482,"r":26.42,"d":-5.5},{"l":1482,"r":26.08,"d":-15.2},{"l":1482,"r":25.62,"d":-21.2},{"l":1482,"r":25.06,"d":-24.5},{"l":1482,"r":24.66,"d":-33.7},{"l":1482,"r":24.38,"d":-43},{"l":1482,"r":23.64,"d":-41.1},{"l":1482,"r":23.15,"d":-46.7},{"l":1482,"r":22.53,"d":-46.2},
{"l":1462,"r":27.22,"d":-92.4},{"l":1462,"r":26.27,"d":-83.1},{"l":1462,"r":26.2,"d":-73},{"l":1462,"r":25.12,"d":-67.4},{"l":1462,"r":24.6,"d":-74.4},{"l":1462,"r":23.52,"d":-72.5}
],
"bar":[{"b":1450,"c":1453},{"b":1452,"c":1455},{"b":1454,"c":1457},{"b":1456,"c":1459},{"b":1458,"c":1461},{"b":1460,"c":1463},{"b":1462,"c":1465},{"b":1464,"c":1467},{"b":1466,"c":1469},{"b":1468,"c":1471},{"b":1470,"c":1473},{"b":1472,"c":1475},{"b":1474,"c":1477},{"b":1476,"c":1479},{"b":1478,"c":1481},{"b":1480,"c":1483},{"b":1482,"c":1485},{"b":1484,"c":1487},{"b":1486,"c":1489},{"b":1488,"c":1491},{"b":1490,"c":1493},{"b":1492,"c":1495},{"b":1494,"c":1497},{"b":1496,"c":1499},{"b":1498,"c":1501},{"b":1500,"c":1503},{"b":1502,"c":1505},{"b":1504,"c":1507},{"b":1506,"c":1509},{"b":1508,"c":1511},{"b":1510,"c":1513},{"b":1512,"c":1515},{"b":1514,"c":1517},{"b":1516,"c":1519},{"b":1518,"c":1521},{"b":1520,"c":1523},{"b":1522,"c":1525},{"b":1524,"c":1527},{"b":1526,"c":1529},{"b":1528,"c":1531},{"b":1530,"c":1533},{"b":1532,"c":1535},{"b":1534,"c":1537},{"b":1536,"c":1539},{"b":1538,"c":1541},{"b":1540,"c":1543},{"b":1542,"c":1545},{"b":1544,"c":1547},{"b":1546,"c":1549},{"b":1548,"c":1551},{"b":1550,"c":1553},{"b":1552,"c":1555},{"b":1554,"c":1557},{"b":1556,"c":1559},{"b":1558,"c":1561},{"b":1560,"c":1563},{"b":1562,"c":1565},{"b":1564,"c":1567},{"b":1566,"c":1569},{"b":1568,"c":1571},{"b":1570,"c":1573},{"b":1572,"c":1575},{"b":1574,"c":1577},{"b":1576,"c":1579},{"b":1578,"c":1581},{"b":1580,"c":1583},{"b":1582,"c":1585},{"b":1584,"c":1587},{"b":1586,"c":1589},{"b":1588,"c":1591},{"b":1590,"c":1593},{"b":1592,"c":1595},{"b":1594,"c":1597},{"b":1596,"c":1599},{"b":1598,"c":1601},{"b":1600,"c":1603},{"b":1602,"c":1605},{"b":1604,"c":1607},{"b":1606,"c":1609},{"b":1608,"c":1611},{"b":1610,"c":1613},{"b":1612,"c":1615},{"b":1614,"c":1617},{"b":1616,"c":1619},{"b":1618,"c":1621},{"b":1620,"c":1623},{"b":1622,"c":1625},{"b":1624,"c":1627},{"b":1626,"c":1629},{"b":1628,"c":1631},{"b":1630,"c":1633},{"b":1632,"c":1635},{"b":1634,"c":1637},{"b":1636,"c":1639},{"b":1638,"c":1641},{"b":1640,"c":1643},{"b":1642,"c":1645},{"b":1644,"c":1647},{"b":1646,"c":1649},{"b":1648,"c":1651},{"b":1650,"c":1653},{"b":1652,"c":1655},{"b":1654,"c":1657},{"b":1656,"c":1659},{"b":1658,"c":1661},{"b":1660,"c":1663},{"b":1662,"c":1665},{"b":1664,"c":1667},{"b":1666,"c":1669},{"b":1668,"c":1671},{"b":1670,"c":1673},{"b":1672,"c":1675},{"b":1674,"c":1677},{"b":1676,"c":1679},{"b":1678,"c":1681}],
"notes":[{"t":"Contours","r":33.27,"d":-80.8},{"t":"1462:1742:20 Km/s","r":33.27,"d":-90.5}],
"ylabels":[{"t":"1′40″","r":33.92,"d":100},{"t":"50″","r":33.92,"d":50},{"t":"6° 0′","r":33.92,"d":0},{"t":"5°59′10″","r":33.92,"d":-50}],
"xlabels":[{"t":"30ˢ","r":30,"d":-106.7},{"t":"2ʰ15ᵐ25ˢ","r":24.75,"d":-106.7}]
},
"layer":[
{"layer":[
{"data":{"name":"cells"},"mark":{"type":"square","opacity":1,"size":185,"clip":true,"strokeWidth":0},"encoding":{
"x":{"field":"r","type":"quantitative","scale":{"domain":[33.796,20.895],"range":[0,418],"nice":false,"zero":false},"axis":{"values":[33,32,31,30,29,28,27,26,25,24,23,22,21],"labels":false,"tickSize":{"condition":{"test":"datum.value%5==0","value":-6},"value":-3},"tickColor":"#555555","domainColor":"#777777","domainWidth":2,"title":"R.A. (2000.0)","titleX":217,"titleY":37,"zindex":1}},
"y":{"field":"d","type":"quantitative","scale":{"domain":[-97.46,103.46],"range":[435,0],"nice":false,"zero":false},"axis":{"values":[100,90,80,70,60,50,40,30,20,10,0,-10,-20,-30,-40,-50,-60,-70,-80,-90],"labels":false,"tickSize":{"condition":{"test":"datum.value%50==0","value":-6},"value":-3},"tickColor":"#555555","domainColor":"#777777","domainWidth":2,"title":"Dec. (2000.0)","titleX":-88,"titleY":224,"zindex":1}},
"color":{"field":"v","type":"quantitative","legend":null,"scale":{"domain":[1449.5,1463,1479,1500,1508.5,1527,1543.6,1551,1567,1589,1612,1627,1636,1650.5,1657.4,1668,1677,1680.9],"range":["#000000","#000040","#000080","#0000d0","#0000ff","#0080ff","#00ffff","#00ffa0","#00ff00","#ffff00","#ff8000","#ff0000","#ff0080","#ff00ff","#ff40ff","#ff80ff","#ffd0ff","#fff0ff"]}}}},
{"data":{"name":"cells"},"mark":{"type":"circle","opacity":0.4,"size":530,"clip":true,"strokeWidth":0},"encoding":{"x":{"field":"r","type":"quantitative"},"y":{"field":"d","type":"quantitative"},"color":{"field":"v","type":"quantitative"}}},
{"data":{"name":"edge"},"mark":{"type":"line","color":"white","strokeWidth":24,"clip":true,"strokeJoin":"round","interpolate":"cardinal"},"encoding":{"x":{"field":"r","type":"quantitative"},"y":{"field":"d","type":"quantitative"},"order":{"value":null}}},
{"data":{"name":"contours"},"mark":{"type":"line","color":"black","strokeWidth":1.2,"clip":true},"encoding":{"x":{"field":"r","type":"quantitative"},"y":{"field":"d","type":"quantitative"},"detail":{"field":"l"},"order":{"value":null}}},
{"data":{"values":[{"r":27.59,"d":9.2}]},"mark":{"type":"point","shape":"M-1,0H1M0,-1V1","size":100,"stroke":"black","strokeWidth":1,"fill":null,"opacity":1},"encoding":{"x":{"field":"r","type":"quantitative"},"y":{"field":"d","type":"quantitative"}}},
{"data":{"values":[{"r":33.796,"q":20.895,"d":103.46}]},"mark":{"type":"rule","color":"#444444","strokeWidth":1},"encoding":{"x":{"field":"r","type":"quantitative"},"x2":{"field":"q"},"y":{"field":"d","type":"quantitative"}}},
{"data":{"name":"notes"},"mark":{"type":"text","align":"left","baseline":"middle","font":"DejaVu Serif","fontSize":17.5,"color":"black"},"encoding":{"x":{"field":"r","type":"quantitative"},"y":{"field":"d","type":"quantitative"},"text":{"field":"t"}}},
{"data":{"name":"ylabels"},"mark":{"type":"text","align":"right","baseline":"middle","font":"DejaVu Serif","fontSize":16,"color":"black","clip":false},"encoding":{"x":{"field":"r","type":"quantitative"},"y":{"field":"d","type":"quantitative"},"text":{"field":"t"}}},
{"data":{"name":"xlabels"},"mark":{"type":"text","align":"center","baseline":"middle","font":"DejaVu Serif","fontSize":17,"color":"black","clip":false},"encoding":{"x":{"field":"r","type":"quantitative"},"y":{"field":"d","type":"quantitative"},"text":{"field":"t"}}}
]},
{"layer":[
{"data":{"name":"bar"},"mark":{"type":"rect","strokeWidth":0},"encoding":{
"x":{"datum":0,"type":"quantitative","scale":{"domain":[0,1],"range":[418,454],"nice":false,"zero":false},"axis":null},"x2":{"datum":1},
"y":{"field":"b","type":"quantitative","scale":{"domain":[1449.5,1680.9],"range":[435,0],"nice":false,"zero":false},"axis":{"orient":"left","offset":-418,"values":[1450,1500,1550,1600,1650],"labelExpr":"datum.value==1500||datum.value==1600?datum.label:''","tickSize":{"condition":{"test":"datum.value==1500||datum.value==1600","value":5},"value":2.5},"tickColor":"black","domain":false,"labelPadding":8,"labelOverlap":false,"title":null,"format":"d","zindex":1}},
"y2":{"field":"c"},
"color":{"field":"b","type":"quantitative"}}},
{"data":{"values":[{"a":0,"e":1,"b":1449.5,"c":1680.9}]},"mark":{"type":"rect","fill":null,"stroke":"black","strokeWidth":1},"encoding":{"x":{"field":"a","type":"quantitative"},"x2":{"field":"e"},"y":{"field":"b","type":"quantitative"},"y2":{"field":"c"}}},
{"data":{"values":[{"t":"Km/s","a":0.68,"b":1685.5}]},"mark":{"type":"text","align":"center","baseline":"middle","font":"DejaVu Serif","fontSize":18,"color":"black","clip":false},"encoding":{"x":{"field":"a","type":"quantitative"},"y":{"field":"b","type":"quantitative"},"text":{"field":"t"}}}
]}
],
"resolve":{"scale":{"x":"independent","y":"independent"}}}
